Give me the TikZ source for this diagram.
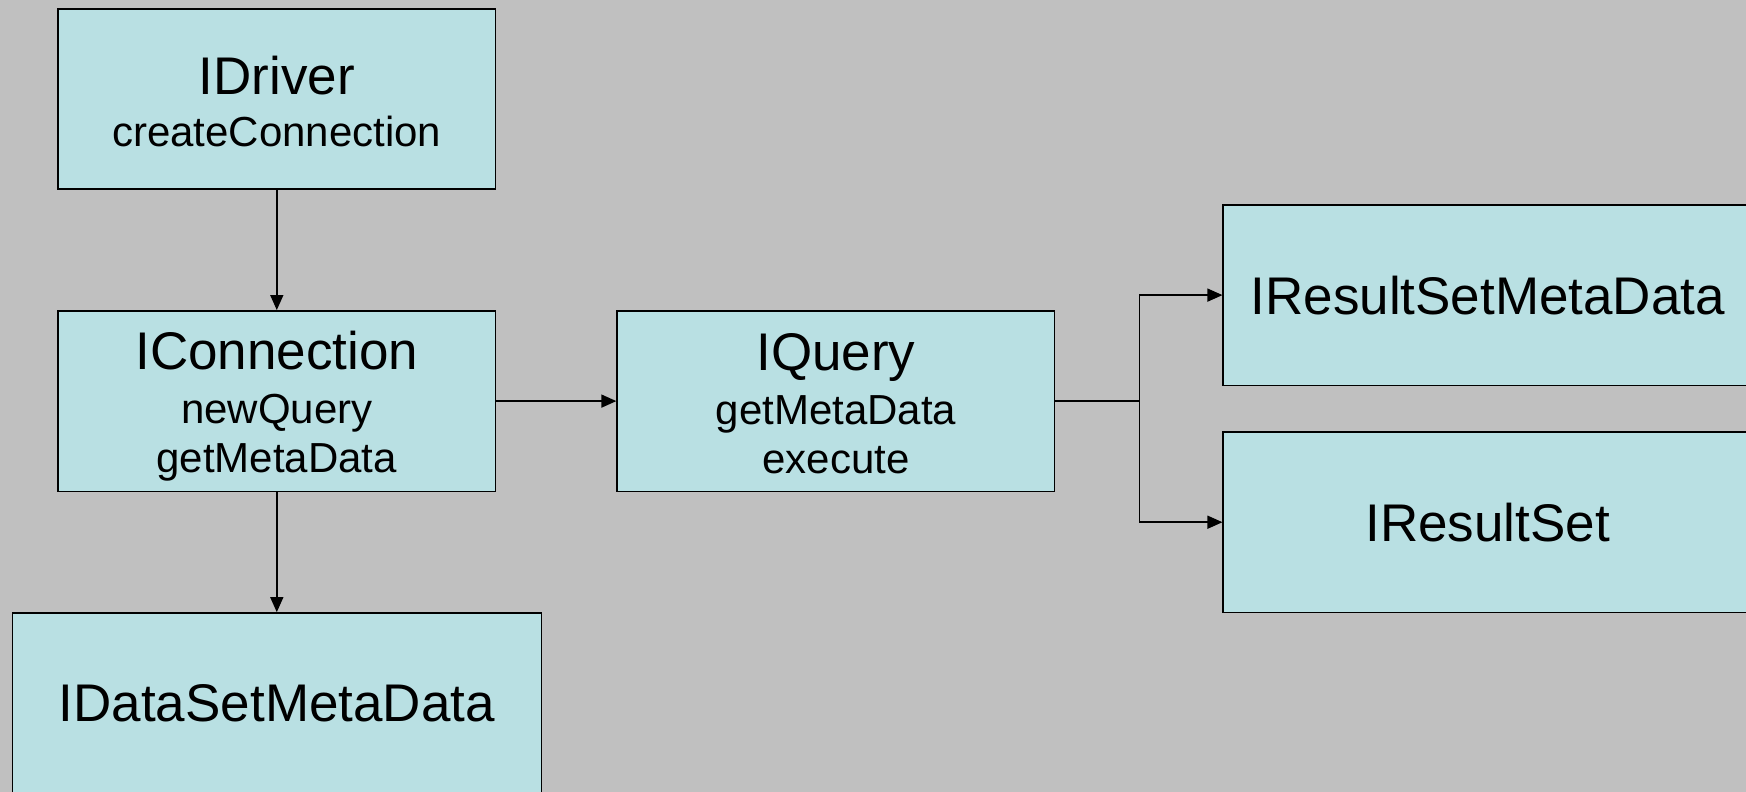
\documentclass[tikz,border=0pt]{standalone}
\usepackage{fontspec}
\setmainfont{Liberation Sans}
\usepackage{tikz}
\usetikzlibrary{positioning,arrows.meta}

\definecolor{slide}{RGB}{192,192,192}
\definecolor{boxfill}{RGB}{185,224,227}

\tikzset{
  unit/.style={draw=black, line width=1.6pt, fill=boxfill, minimum width=437.5pt,
    minimum height=180.5pt, inner sep=0pt, align=center,
    font=\fontsize{42}{49}\selectfont},
  wide/.style={minimum width=529pt},
  link/.style={line width=1.5pt, -{Triangle[length=15pt,width=13pt]}},
}
% interface name, optional strut pushes the text block down a little
\newcommand{\iname}[2][0pt]{{\fontsize{53}{54}\selectfont\rule{0pt}{#1}#2}}

\begin{document}
\begin{tikzpicture}[x=1pt, y=-1pt, node distance=120pt]
  \useasboundingbox (0,0) rectangle (1746,792);
  \clip (0,0) rectangle (1746,792);
  \fill[slide] (0,0) rectangle (1746,792);

  %% interfaces
  \node[unit] (driver) at (276.8,99) {\iname[44pt]{IDriver}\\[3pt] createConnection};
  \node[unit, below=of driver] (conn) {\iname[48pt]{IConnection}\\[5pt] newQuery\\ getMetaData};
  \node[unit, right=of conn] (query) {\iname[43pt]{IQuery}\\[5pt] getMetaData\\ execute};
  \node[unit, wide, below=of conn] (dsmeta) {\iname{IDataSetMetaData}};
  \node[unit, wide, right=167pt of query.east, yshift=106pt] (rsmeta) {\iname{IResultSetMetaData}};
  \node[unit, wide, below=45pt of rsmeta] (rset) {\iname{IResultSet}};

  %% calls
  \coordinate[right=84pt of query.east] (fork);
  \draw[link] (driver) -- (conn);
  \draw[link] (conn) -- (dsmeta);
  \draw[link] (conn) -- (query);
  \draw[line width=1.5pt] (query.east) -- (fork);
  \draw[link] (fork) |- (rsmeta.west);
  \draw[link] (fork) |- (rset.west);
\end{tikzpicture}
\end{document}
